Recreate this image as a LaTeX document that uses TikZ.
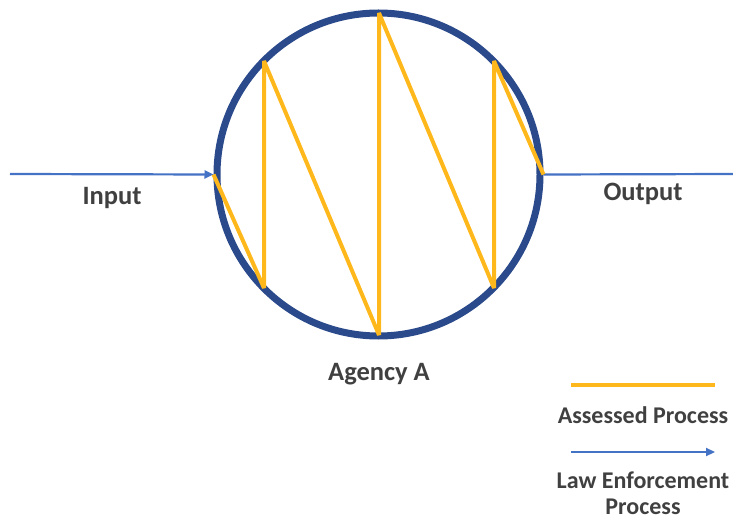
\documentclass[tikz,border=0pt]{standalone}
\usepackage{fontspec}
\setmainfont{Carlito}
\usetikzlibrary{arrows.meta}
\definecolor{ringblue}{HTML}{2B4A8B}
\definecolor{flowblue}{HTML}{4472C4}
\definecolor{gold}{HTML}{FFB81C}
\definecolor{txt}{HTML}{404040}
\begin{document}
\begin{tikzpicture}[x=1pt,y=-1pt,
  lbl/.style={text=txt,font=\fontsize{26.5}{30}\selectfont\bfseries,anchor=base,inner sep=0pt,align=center},
  leglbl/.style={lbl,font=\fontsize{24}{26}\selectfont\bfseries},
  flow/.style={draw=flowblue,line width=2.2pt},
  flowarrow/.style={flow,-{Triangle[length=9pt,width=8pt]}},
  assessed/.style={draw=gold,line width=4pt,line join=bevel}]
\useasboundingbox (0,0) rectangle (733,521);
\node[circle,draw=ringblue,line width=7pt,minimum size=323pt,inner sep=0pt] (agency) at (378.5,174.5) {};
\coordinate (inStart) at (10,174);
\coordinate (outEnd) at (733,174);
\draw[flowarrow] (inStart) -- (agency.west);
\draw[flow] (agency.east) -- (outEnd);
% zigzag
\coordinate (z1) at (264,288);
\coordinate (z2) at (264,61);
\coordinate (z3) at (379,335);
\coordinate (z4) at (379,13);
\coordinate (z5) at (494,288);
\coordinate (z6) at (494,61);
\draw[assessed] (agency.west) -- (z1) -- (z2) -- (z3) -- (z4) -- (z5) -- (z6) -- (agency.east);
\node[lbl] (input) at (112,205) {Input};
\node[lbl] (output) at (643,201) {Output};
\node[lbl] (agencyA) at (379,380) {Agency A};
% legend
\coordinate (l1a) at (571,385);
\coordinate (l1b) at (715,385);
\draw[assessed,line width=4.5pt] (l1a) -- (l1b);
\node[leglbl] (assessedlbl) at (643,423) {Assessed Process};
\coordinate (l2a) at (571,452);
\coordinate (l2b) at (715,452);
\draw[flowarrow] (l2a) -- (l2b);
\node[leglbl] (lawlbl) at (643,514) {Law Enforcement\\Process};
\end{tikzpicture}
\end{document}
